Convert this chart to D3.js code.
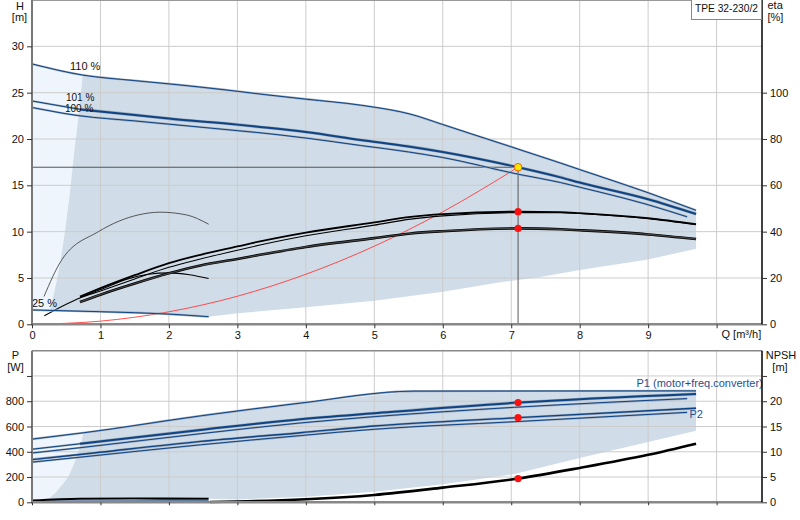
<!DOCTYPE html>
<html><head><meta charset="utf-8">
<script src="https://cdn.jsdelivr.net/npm/d3@7"></script>
<style>
body{margin:0;background:#fff}
text{font-family:"Liberation Sans",Arial,sans-serif;font-size:11px;fill:#111}
</style>
</head><body>
<svg id="c" width="800" height="520"></svg>
<script>
// ---------------- DATA ----------------
const qTicks = [0,1,2,3,4,5,6,7,8,9];
const hTicks = [0,5,10,15,20,25,30];
const etaTicks = [0,20,40,60,80,100];
const pTicks = [0,200,400,600,800,1000];
const pTickLabels = ["0","200","400","600","800",""];
const npshTicks = [0,5,10,15,20,25];
const npshTickLabels = ["0","5","10","15","20",""];

// H curves [m]
const qH110 = [0,0.74,1.5,2,3,3.33,4,4.8,5.57,6,7,7.72,8,9,9.7];
const h110  = [28.1,26.9,26.3,25.95,25.15,24.85,24.3,23.65,22.6,21.56,19.15,17.4,16.7,14.2,12.3];
const qH101 = [0,0.7,1.5,2,3,3.33,4,4.8,5.5,6,7.1,7.72,8,9,9.7];
const h101  = [24.1,23.2,22.6,22.2,21.55,21.3,20.75,19.9,19.2,18.6,16.95,15.86,15.3,13.5,11.9];
const qH100 = [0,0.7,1.5,2,3,3.33,4,4.8,5.5,6,7.1,7.72,8,9,9.57];
const h100  = [23.4,22.5,21.95,21.6,20.9,20.67,20.1,19.3,18.6,18.0,16.2,15.3,14.8,12.9,11.6];
const qH25  = [0,1,2,2.58];
const h25   = [1.55,1.36,1.1,0.82];
// system curve
const qSys = [0,1,2,3,4,5,6,7.1];
const hSys = [0,0.34,1.35,3.03,5.4,8.43,12.14,16.95];
// efficiency curves [%]
const qEtaUp = [0.7,1,1.5,2,2.46,3,3.33,4,5,5.53,6,7.1,7.72,8,9,9.7];
const etaUp  = [12,15.6,21.2,26.4,30,33.6,35.8,39.6,44,46.4,47.6,48.6,48.4,48,45.8,43.2];
const qEtaUpThin = [0.18,0.7,1,1.5,2,2.46,3,3.33,4,5,5.53,6,7.1,7.72,8,9,9.7];
const etaUpThin  = [3.7,11.4,14.4,19.6,24.6,28.2,32,34.2,38.2,42.8,45.4,46.8,48.2,48.2,47.8,45.6,43];
const qEtaLow = [0.7,1,1.5,2,2.46,3,3.33,4,5,5.53,6,7.1,7.72,8,9,9.7];
const etaLow  = [9.6,12.8,17.6,22,25.4,28.2,30,33.4,37.2,39.2,40.2,41.4,41,40.6,38.8,36.8];
const qEta25P = [0.175,0.43,0.97,1.55,1.87,2.26,2.58];
const eta25P  = [12,27.6,40,47.2,48.4,47.2,43.2];
const qEta25T = [0.7,1,1.4,1.7,2.0,2.3,2.58];
const eta25T  = [11.6,15.0,19.6,21.6,22.2,21.4,19.8];
// envelope (H chart)
const qEnvLow = [9.7,9,8,7.43,6.84,6,5,4,3,2.58,2,1,0.27];
const hEnvLow = [8.15,7.0,5.86,5.1,4.53,3.52,2.55,1.83,1.19,0.82,1.1,1.36,1.5];
const qEnvLeft = [0.31,0.37,0.42,0.48,0.55,0.62,0.68,0.74];
const hEnvLeft = [3,5,7,10,14,18.8,22.5,26.9];
// power curves [W]
const qP110 = [0,0.75,2.46,3.92,5.58,9.7];
const p110  = [500,550,684,785,880,882];
const qP1a = [0,0.7,2.46,3.92,5,7.1,9.7];
const p1a  = [420,463,573,658,705,789,857];
const qP1b = [0,0.7,2.46,3.92,5,7.05,9.57];
const p1b  = [390,432,543,628,678,752,821];
const qP2a = [0,0.7,2.46,3.92,5,7.1,9.7];
const p2a  = [338,378,482,551,604,670,745];
const qP2b = [0,0.7,2.46,3.92,5,7.05,9.57];
const p2b  = [318,357,455,528,578,638,712];
const qP25a = [0,0.7,1.5,2.58];
const p25a  = [14,28,30,28];
const qP25b = [0,2.58];
const p25b  = [8,10];
// NPSH [m]
const qNpsh = [2.6,3,4,5,6,7.1,8,9,9.7];
const npsh  = [0.05,0.15,0.6,1.45,2.9,4.7,6.8,9.4,11.6];
// envelope (P chart)
const qPEnvLow = [9.7,9,8,7.05,6,5,4,3,2.58,1.5,0.7,0.2];
const pPEnvLow = [567,478,350,224,142,84,44,22,28,30,28,22];
const qPEnvLeft = [0.26,0.35,0.45,0.53,0.6,0.67,0.72,0.75];
const pPEnvLeft = [35,80,145,203,285,388,470,550];
// duty point
const dutyQ = 7.1, dutyH = 16.95, dutyEtaP = 48.6, dutyEtaT = 41.4;
const dutyP1 = 789, dutyP2 = 670, dutyNpsh = 4.7;

// ---------------- SCALES ----------------
const svg = d3.select("#c");
const X0 = 32, X1 = 762;
const x = d3.scaleLinear().domain([0,10]).range([32,716.6]);
const yH = d3.scaleLinear().domain([0,35]).range([324.3,0]);
const yEta = d3.scaleLinear().domain([0,140]).range([324.3,0]);
const yP = d3.scaleLinear().domain([0,1200]).range([502.3,350.7]);
const yN = d3.scaleLinear().domain([0,30]).range([502.3,350.7]);

const zip = (qs, vs) => qs.map((q,i)=>[q,vs[i]]);
const lineFn = (ys, curve) => d3.line().x(d=>x(d[0])).y(d=>ys(d[1])).curve(curve||d3.curveMonotoneX);

const BLUE = "#0e4483", HALO = "#9eabbd", SHADE = "#d0dce7", LIGHT = "#eef5fc", GRID = "#cccccc";

function blueLine(g, data, ys, w){
  g.append("path").attr("d", lineFn(ys)(data)).attr("fill","none").attr("stroke",HALO).attr("stroke-width",w+1.1);
  g.append("path").attr("d", lineFn(ys)(data)).attr("fill","none").attr("stroke",BLUE).attr("stroke-width",w);
}
function blackLine(g, data, ys, w, col){
  g.append("path").attr("d", lineFn(ys)(data)).attr("fill","none").attr("stroke",col||"#000").attr("stroke-width",w);
}

// ---------------- TOP CHART ----------------
const gTop = svg.append("g");
const light = [[0,h110[0]],[qH110[1],h110[1]]]
  .concat(zip(qEnvLeft,hEnvLeft).reverse())
  .concat([[0.27,1.5],[0,h25[0]]]);
gTop.append("path").attr("d", lineFn(yH,d3.curveLinear)(light)+"Z").attr("fill",LIGHT);
const env = zip(qH110,h110).slice(1)
  .concat(zip(qEnvLow,hEnvLow))
  .concat(zip(qEnvLeft,hEnvLeft));
gTop.append("path").attr("d", lineFn(yH,d3.curveLinear)(env)+"Z").attr("fill",SHADE);
const gridG = gTop.append("g").attr("stroke",GRID).attr("stroke-width",1);
[1,2,3,4,5,6,7,8,9,10].forEach(q=>gridG.append("line").attr("x1",x(q)).attr("x2",x(q)).attr("y1",0).attr("y2",yH(0)));
hTicks.slice(1).forEach(h=>gridG.append("line").attr("x1",X0).attr("x2",X1).attr("y1",yH(h)).attr("y2",yH(h)));
gTop.append("line").attr("x1",X0).attr("x2",X1).attr("y1",0.5).attr("y2",0.5).attr("stroke","#999").attr("stroke-width",1);
gTop.append("line").attr("x1",X0).attr("x2",x(dutyQ)).attr("y1",yH(dutyH)).attr("y2",yH(dutyH)).attr("stroke","#555").attr("stroke-width",1);
gTop.append("line").attr("x1",x(dutyQ)).attr("x2",x(dutyQ)).attr("y1",yH(dutyH)).attr("y2",yH(0)).attr("stroke","#555").attr("stroke-width",1);
blackLine(gTop, zip(qSys,hSys), yH, 0.9, "#ff3b3b");
blackLine(gTop, zip(qEta25P,eta25P), yEta, 0.8, "#333");
blackLine(gTop, zip(qEta25T,eta25T), yEta, 1.1);
blackLine(gTop, zip(qEtaUpThin,etaUpThin), yEta, 1.1);
blackLine(gTop, zip(qEtaUp,etaUp), yEta, 1.8);
blackLine(gTop, zip(qEtaLow,etaLow), yEta, 2.6);
blackLine(gTop, zip(qEtaLow,etaLow), yEta, 1.2, "#444");
blueLine(gTop, zip(qH25,h25), yH, 1);
blueLine(gTop, zip(qH100,h100), yH, 1);
blueLine(gTop, zip(qH101,h101).slice(0,2), yH, 1);
blueLine(gTop, zip(qH101,h101).slice(1), yH, 2);
blueLine(gTop, zip(qH110,h110), yH, 1);
gTop.append("circle").attr("cx",x(dutyQ)).attr("cy",yEta(dutyEtaP)).attr("r",3.6).attr("fill","#ff1010");
gTop.append("circle").attr("cx",x(dutyQ)).attr("cy",yEta(dutyEtaT)).attr("r",3.6).attr("fill","#ff1010");
gTop.append("circle").attr("cx",x(dutyQ)).attr("cy",yH(dutyH)).attr("r",3.8).attr("fill","#ffe800").attr("stroke","#f06000").attr("stroke-width",1);
gTop.append("text").attr("x",70).attr("y",69.5).text("110 %");
gTop.append("text").attr("x",66).attr("y",100.5).style("font-size","10px").text("101 %");
gTop.append("text").attr("x",65).attr("y",112).style("font-size","10px").text("100 %");
gTop.append("text").attr("x",32).attr("y",306.5).text("25 %");

gTop.append("line").attr("x1",X0).attr("x2",X0).attr("y1",0).attr("y2",yH(0)+1).attr("stroke","#777").attr("stroke-width",2);
gTop.append("line").attr("x1",X0).attr("x2",X1).attr("y1",yH(0)).attr("y2",yH(0)).attr("stroke","#888").attr("stroke-width",2.5);
gTop.append("line").attr("x1",X1).attr("x2",X1).attr("y1",0).attr("y2",yH(0)).attr("stroke","#000").attr("stroke-width",1.5);

const axL = gTop.append("g").attr("transform",`translate(${X0},0)`)
  .call(d3.axisLeft(yH).tickValues(hTicks).tickSize(5).tickPadding(3));
const axR = gTop.append("g").attr("transform",`translate(${X1},0)`)
  .call(d3.axisRight(yEta).tickValues(etaTicks).tickSize(5).tickPadding(3));
const axB = gTop.append("g").attr("transform",`translate(0,${yH(0)})`)
  .call(d3.axisBottom(x).tickValues(qTicks.concat([10])).tickFormat(d=>d===10?"":d).tickSize(4).tickPadding(3));
[axL,axR,axB].forEach(a=>{a.select(".domain").remove();a.selectAll("text").style("font-size","11px").attr("fill","#111");a.selectAll("line").attr("stroke","#333");});

gTop.append("text").attr("x",721.5).attr("y",338).text("Q [m³/h]");
gTop.append("text").attr("x",20).attr("y",10).attr("text-anchor","middle").text("H");
gTop.append("text").attr("x",19.5).attr("y",21).attr("text-anchor","middle").text("[m]");
gTop.append("text").attr("x",767.5).attr("y",9).text("eta");
gTop.append("text").attr("x",767.5).attr("y",20.5).text("[%]");
gTop.append("rect").attr("x",691.5).attr("y",-1).attr("width",70).attr("height",20.5).attr("fill","#fff").attr("stroke","#888");
gTop.append("text").attr("x",726.5).attr("y",12).attr("text-anchor","middle").style("font-size","10.5px").attr("textLength",63).attr("lengthAdjust","spacingAndGlyphs").text("TPE 32-230/2");

// ---------------- BOTTOM CHART ----------------
const gBot = svg.append("g");
const pLight = zip(qP110,p110).slice(0,2)
  .concat(zip(qPEnvLeft,pPEnvLeft).reverse())
  .concat([[0.2,22],[0,16]]);
gBot.append("path").attr("d", lineFn(yP,d3.curveLinear)(pLight)+"Z").attr("fill",LIGHT);
const pEnv = zip(qP110,p110).slice(1)
  .concat(zip(qPEnvLow,pPEnvLow))
  .concat(zip(qPEnvLeft,pPEnvLeft));
gBot.append("path").attr("d", lineFn(yP,d3.curveLinear)(pEnv)+"Z").attr("fill",SHADE);
const gridB = gBot.append("g").attr("stroke",GRID).attr("stroke-width",1);
[1,2,3,4,5,6,7,8,9,10].forEach(q=>gridB.append("line").attr("x1",x(q)).attr("x2",x(q)).attr("y1",yP(1200)).attr("y2",yP(0)));
pTicks.slice(1).forEach(p=>gridB.append("line").attr("x1",X0).attr("x2",X1).attr("y1",yP(p)).attr("y2",yP(p)));
gBot.append("line").attr("x1",X0).attr("x2",X1).attr("y1",yP(1200)).attr("y2",yP(1200)).attr("stroke","#888").attr("stroke-width",1.5);

blackLine(gBot, zip(qNpsh,npsh), yN, 2.6);
blueLine(gBot, zip(qP25b,p25b), yP, 1);
blackLine(gBot, zip(qP25a,p25a), yP, 2.2);
blueLine(gBot, zip(qP2b,p2b), yP, 1);
blueLine(gBot, zip(qP2a,p2a), yP, 1.4);
blueLine(gBot, zip(qP1b,p1b), yP, 1);
blueLine(gBot, zip(qP1a,p1a).slice(0,2), yP, 1);
blueLine(gBot, zip(qP1a,p1a).slice(1), yP, 2);
blueLine(gBot, zip(qP110,p110), yP, 1);
[[dutyP1,yP],[dutyP2,yP],[dutyNpsh,yN]].forEach(([v,s])=>
  gBot.append("circle").attr("cx",x(dutyQ)).attr("cy",s(v)).attr("r",3.6).attr("fill","#ff1010"));

gBot.append("text").attr("x",636.5).attr("y",386.5).style("fill","#1f4f8f").text("P1 (motor+freq.converter)");
gBot.append("text").attr("x",689.5).attr("y",418).style("fill","#1f4f8f").text("P2");

gBot.append("line").attr("x1",X0).attr("x2",X0).attr("y1",yP(1200)).attr("y2",yP(0)+1).attr("stroke","#777").attr("stroke-width",2);
gBot.append("line").attr("x1",X0).attr("x2",X1).attr("y1",yP(0)).attr("y2",yP(0)).attr("stroke","#888").attr("stroke-width",2.5);
gBot.append("line").attr("x1",X1).attr("x2",X1).attr("y1",yP(1200)).attr("y2",yP(0)).attr("stroke","#000").attr("stroke-width",1.5);
const bL = gBot.append("g").attr("transform",`translate(${X0},0)`)
  .call(d3.axisLeft(yP).tickValues(pTicks).tickFormat((d,i)=>pTickLabels[i]).tickSize(5).tickPadding(3));
const bR = gBot.append("g").attr("transform",`translate(${X1},0)`)
  .call(d3.axisRight(yN).tickValues(npshTicks).tickFormat((d,i)=>npshTickLabels[i]).tickSize(5).tickPadding(3));
const bB = gBot.append("g").attr("transform",`translate(0,${yP(0)})`)
  .call(d3.axisBottom(x).tickValues(qTicks.concat([10])).tickFormat("").tickSize(3));
[bL,bR,bB].forEach(a=>{a.select(".domain").remove();a.selectAll("text").style("font-size","11px").attr("fill","#111");a.selectAll("line").attr("stroke","#333");});

gBot.append("text").attr("x",15.5).attr("y",359).attr("text-anchor","middle").text("P");
gBot.append("text").attr("x",15.5).attr("y",371).attr("text-anchor","middle").text("[W]");
gBot.append("text").attr("x",781).attr("y",359).attr("text-anchor","middle").text("NPSH");
gBot.append("text").attr("x",780).attr("y",371).attr("text-anchor","middle").text("[m]");
</script>
</body></html>
